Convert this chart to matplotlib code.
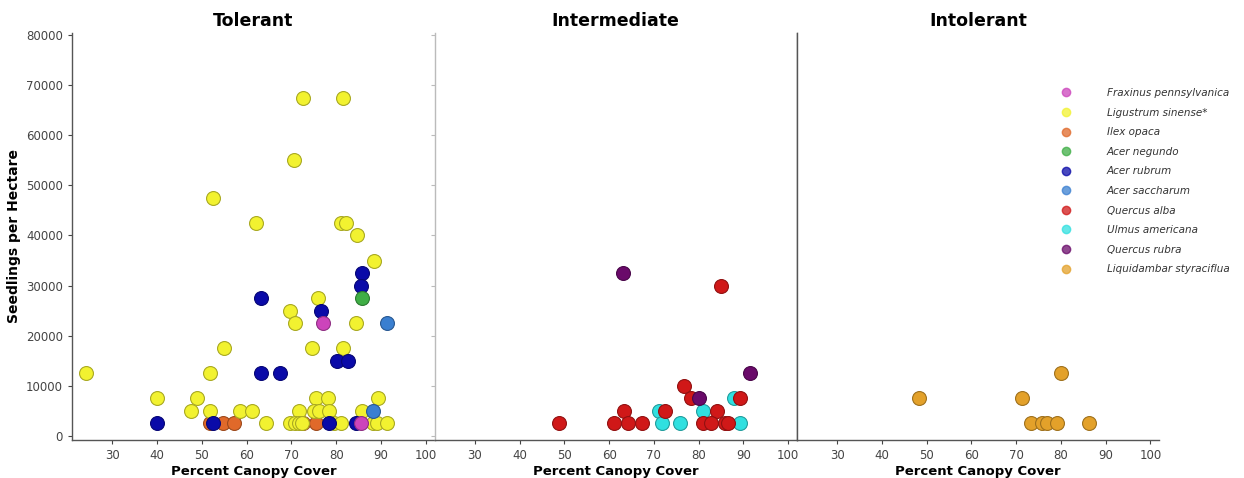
import matplotlib
matplotlib.use("Agg")
import matplotlib.pyplot as plt
from matplotlib.lines import Line2D
import matplotlib.colors as mcolors

species = ["Fraxinus pennsylvanica", "Ligustrum sinense*", "Ilex opaca", "Acer negundo",
           "Acer rubrum", "Acer saccharum", "Quercus alba", "Ulmus americana",
           "Quercus rubra", "Liquidambar styraciflua"]
colors = ["#cc44bb", "#f2f230", "#e0692a", "#3fae45", "#0a0aa8", "#3a7fd0",
          "#d01818", "#30e0e0", "#6a0a6a", "#e3a12a"]
panels = ["Tolerant", "Intermediate", "Intolerant"]

# Tolerant panel
frax_x = [77.0, 85.5]
frax_y = [22500, 2500]
lig_x = [24.2, 72.7, 81.5, 70.5, 52.4, 62.0, 81.0, 82.1, 84.6, 88.4, 75.9, 69.6, 70.7,
         84.4, 74.7, 55.0, 81.5, 51.8, 40.0, 48.8, 47.6, 51.8, 58.5, 61.3, 64.4, 75.4,
         78.2, 75.0, 76.2, 78.3, 71.7, 85.7, 89.3, 69.8, 70.9, 71.6, 72.4, 79.5, 81.0,
         88.3, 89.2, 91.4]
lig_y = [12500, 67500, 67500, 55000, 47500, 42500, 42500, 42500, 40000, 35000, 27500,
         25000, 22500, 22500, 17500, 17500, 17500, 12500, 7500, 7500, 5000, 5000, 5000,
         5000, 2500, 7500, 7500, 5000, 5000, 5000, 5000, 5000, 7500, 2500, 2500, 2500,
         2500, 2500, 2500, 2500, 2500, 2500]
ilex_x = [51.9, 54.8, 57.1, 72.7, 75.4]
ilex_y = [2500, 2500, 2500, 2500, 2500]
neg_x = [85.7]
neg_y = [27500]
rub_x = [52.5, 40.0, 63.3, 76.7, 85.7, 85.6, 63.3, 67.4, 80.1, 82.7, 78.4, 84.4]
rub_y = [2500, 2500, 27500, 25000, 32500, 30000, 12500, 12500, 15000, 15000, 2500, 2500]
sac_x = [91.3, 88.3]
sac_y = [22500, 5000]

# Intermediate panel
alba_x = [85.0, 76.7, 78.2, 89.3, 63.3, 72.6, 84.2, 48.7, 61.0, 64.2, 67.3, 81.0, 82.7, 85.8, 86.5]
alba_y = [30000, 10000, 7500, 7500, 5000, 5000, 5000, 2500, 2500, 2500, 2500, 2500, 2500, 2500, 2500]
ulmus_x = [88.0, 71.1, 81.0, 71.8, 75.8, 89.2]
ulmus_y = [7500, 5000, 5000, 2500, 2500, 2500]
qrub_x = [63.2, 91.6, 80.1]
qrub_y = [32500, 12500, 7500]

# Intolerant panel
liq_x = [48.3, 71.2, 80.0, 73.3, 75.7, 76.9, 79.2, 86.2]
liq_y = [7500, 7500, 12500, 2500, 2500, 2500, 2500, 2500]

panel_data = [
    [(ilex_x, ilex_y, 2), (lig_x, lig_y, 1), (rub_x, rub_y, 4), (neg_x, neg_y, 3),
     (sac_x, sac_y, 5), (frax_x, frax_y, 0)],
    [(ulmus_x, ulmus_y, 7), (alba_x, alba_y, 6), (qrub_x, qrub_y, 8)],
    [(liq_x, liq_y, 9)],
]

y_ticks = [0, 10000, 20000, 30000, 40000, 50000, 60000, 70000, 80000]
x_ticks = [30, 40, 50, 60, 70, 80, 90, 100]


def darker(c, f=0.7):
    r, g, b = mcolors.to_rgb(c)
    return (r * f, g * f, b * f)


fig, axes = plt.subplots(1, 3, figsize=(12.44, 4.78), dpi=100, sharey=True)
fig.subplots_adjust(left=0.058, right=0.932, top=0.931, bottom=0.0795, wspace=0)

for i, ax in enumerate(axes):
    for xs, ys, k in panel_data[i]:
        ax.scatter(xs, ys, s=100, color=colors[k], edgecolors=[darker(colors[k])],
                   linewidths=0.8, zorder=3)
    ax.set_xlim(21, 102)
    ax.set_ylim(-800, 80400)
    ax.set_xticks(x_ticks)
    ax.set_yticks(y_ticks)
    ax.tick_params(labelsize=8.5, colors="#444444", length=3, width=0.8)
    ax.set_title(panels[i], fontsize=12.5, fontweight="bold", pad=5)
    ax.set_xlabel("Percent Canopy Cover", fontsize=9.5, fontweight="bold", labelpad=2)
    ax.spines["top"].set_visible(False)
    for sp in ax.spines.values():
        sp.set_color("#555555")
        sp.set_linewidth(1.0)

axes[0].set_ylabel("Seedlings per Hectare", fontsize=10, fontweight="bold", labelpad=4)
axes[0].spines["right"].set_visible(False)
axes[1].spines["left"].set_color("#bbbbbb")
axes[1].tick_params(axis="y", left=True, colors="#bbbbbb", labelleft=False)
axes[1].tick_params(axis="x", colors="#444444")
axes[1].spines["right"].set_color("#555555")
axes[2].spines["right"].set_visible(False)
axes[2].tick_params(axis="y", left=False, labelleft=False)

handles = [Line2D([], [], linestyle="none", marker="o", markersize=6,
                  markerfacecolor=c, markeredgecolor=c, alpha=0.75) for c in colors]
leg = axes[2].legend(handles, species, loc="upper right", bbox_to_anchor=(1.205, 0.875),
                     frameon=False, fontsize=7.5, handletextpad=2.9, labelspacing=0.92,
                     borderaxespad=0)
for t in leg.get_texts():
    t.set_fontstyle("italic")
    t.set_color("#333333")

fig.savefig("out.png", dpi=100)
